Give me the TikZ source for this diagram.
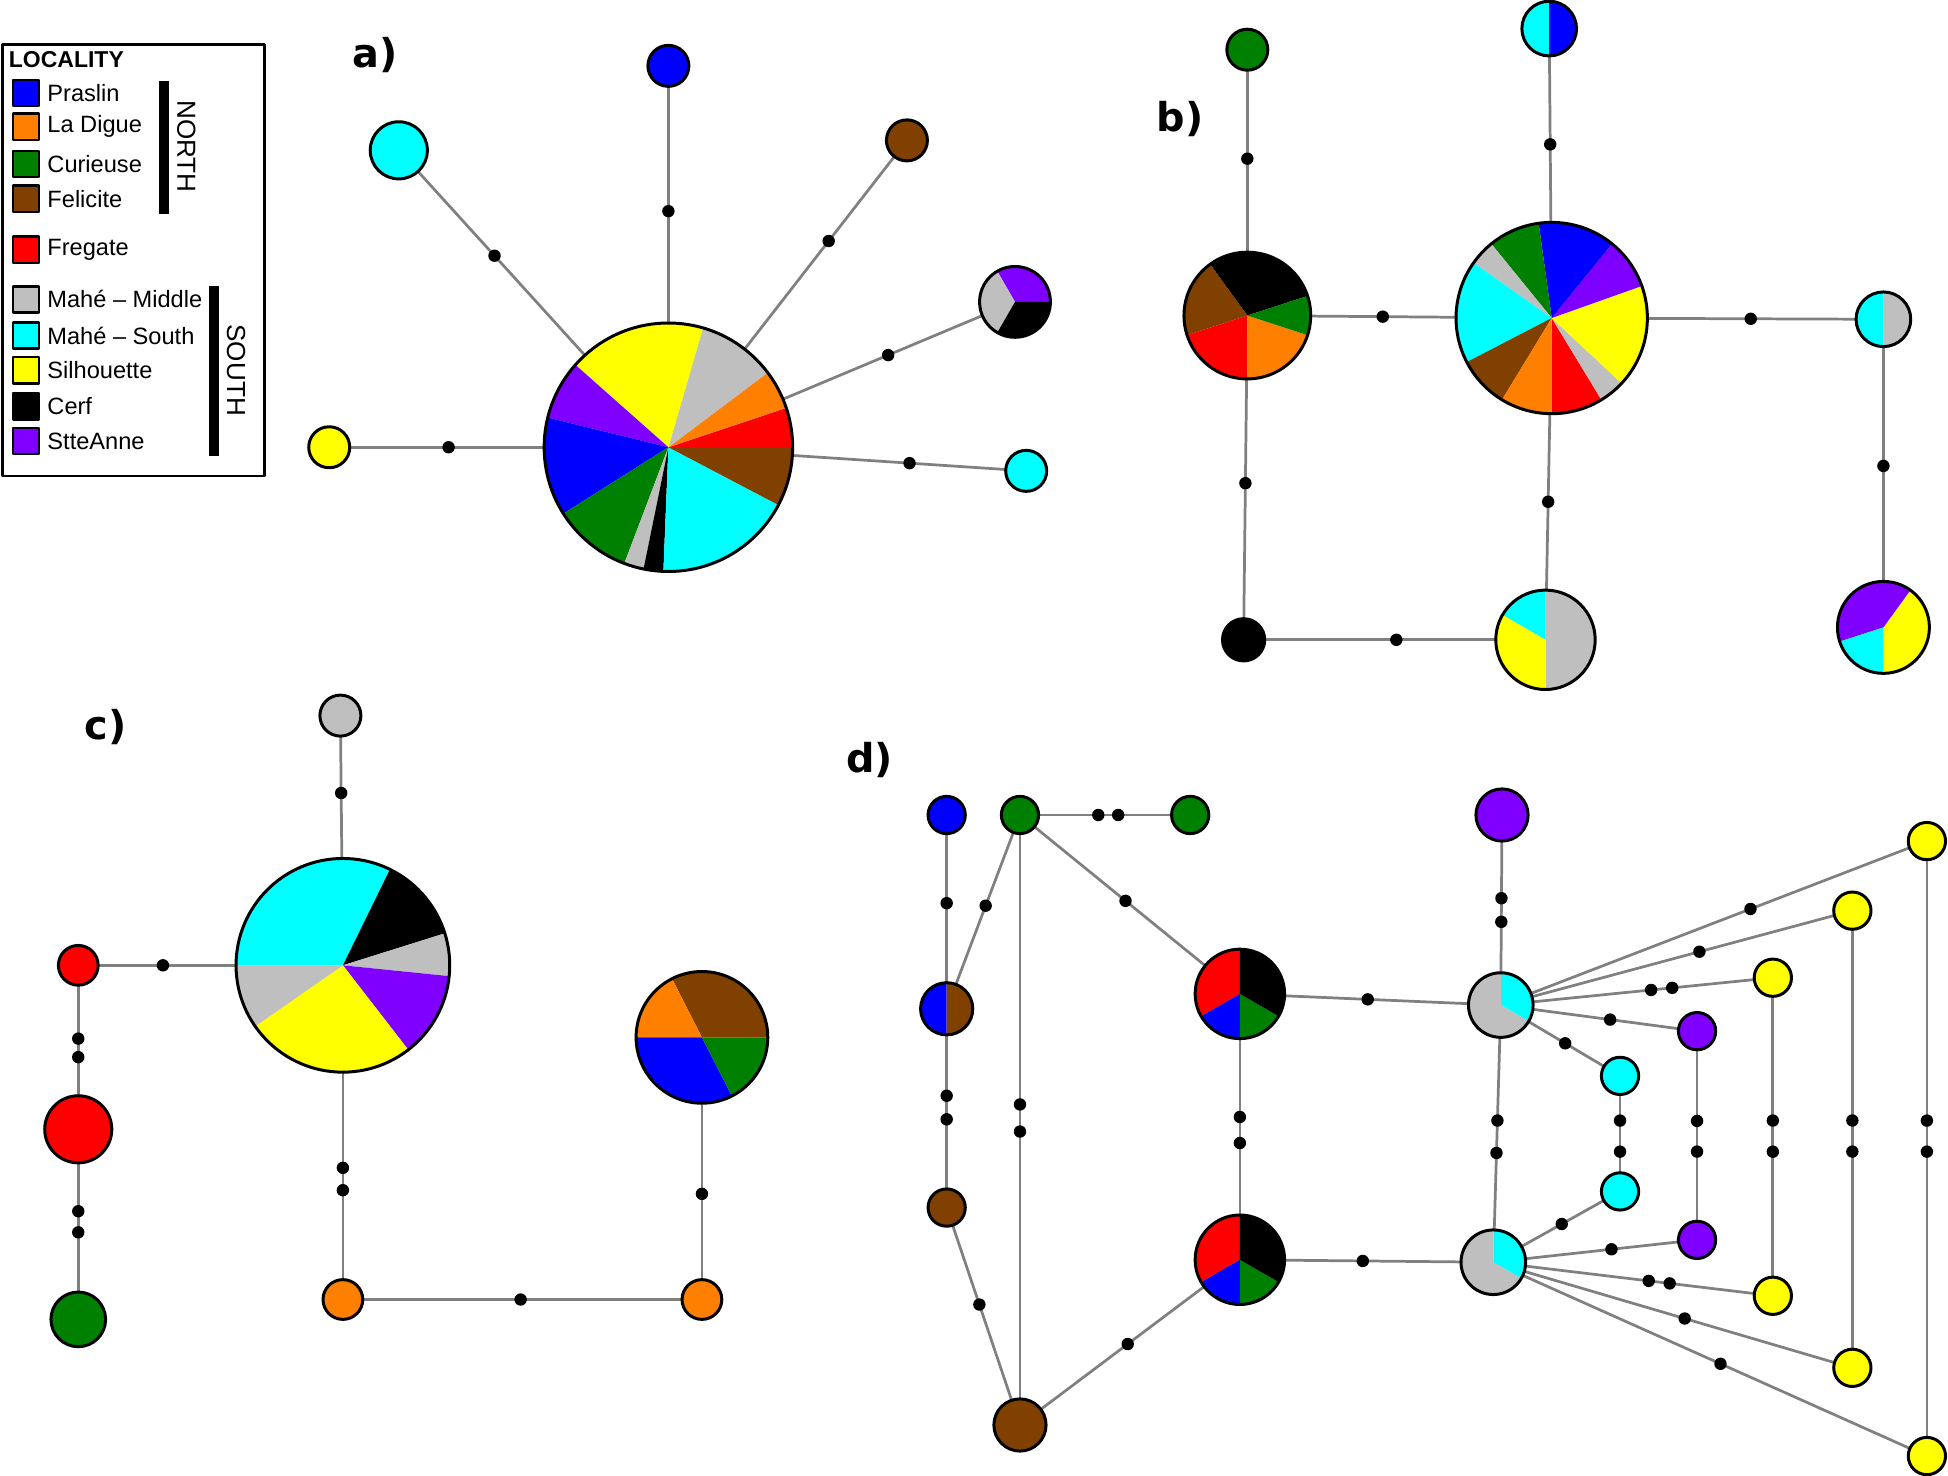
\documentclass[tikz,border=0pt]{standalone}
\usepackage{fontspec}
\setmainfont{Liberation Sans}
\newfontfamily\lblfont{DejaVu Sans}
\usetikzlibrary{calc}
\definecolor{cBlue}{RGB}{0,0,255}
\definecolor{cOrange}{RGB}{255,128,0}
\definecolor{cGreen}{RGB}{0,128,0}
\definecolor{cBrown}{RGB}{128,64,0}
\definecolor{cRed}{RGB}{255,0,0}
\definecolor{cGray}{RGB}{191,191,191}
\definecolor{cCyan}{RGB}{0,255,255}
\definecolor{cYellow}{RGB}{255,255,0}
\definecolor{cBlack}{RGB}{0,0,0}
\definecolor{cPurple}{RGB}{128,0,255}
\definecolor{edgeGray}{RGB}{128,128,128}
\pgfdeclarelayer{bg}
\pgfsetlayers{bg,main}
\newcommand{\mypie}[3]{%
  \foreach \pa/\pb/\pc in {#3}{%
    \fill[\pc] (#1.center) -- ++(\pa:#2pt) arc[start angle=\pa, end angle=\pb, radius=#2pt] -- cycle;}%
  \draw[line width=2.4pt] (#1.center) circle[radius=#2pt];}
\tikzset{
  hap/.style={circle, draw=black, line width=2.4pt, inner sep=0pt, outer sep=0pt},
  pienode/.style={circle, inner sep=0pt, outer sep=0pt},
  mdot/.style={circle, fill=black, inner sep=0pt, minimum size=10pt},
  edge/.style={draw=edgeGray, line width=2.2pt},
  legsq/.style={draw=black, line width=2pt, minimum size=21pt, inner sep=0pt},
  legtxt/.style={anchor=west, inner sep=0pt, font=\fontsize{19}{21}\selectfont},
  panel/.style={inner sep=0pt, font=\lblfont\bfseries\fontsize{32}{34}\selectfont}
}
\begin{document}
\begin{tikzpicture}[x=1pt, y=-1pt, line join=round]
\useasboundingbox (0,0) rectangle (1568,1188);

% ---------- legend ----------
\node[draw=black, line width=2pt, minimum width=211pt, minimum height=347pt, anchor=north west, inner sep=0pt] (legbox) at (1,35) {};
\node[anchor=west, inner sep=0pt, font=\bfseries\fontsize{18.5}{20}\selectfont] (legtitle) at (7,48) {LOCALITY};
\foreach \yy/\cc/\lt in {75/cBlue/Praslin, 102/cOrange/La Digue, 132/cGreen/Curieuse, 160/cBrown/Felicite, 201/cRed/Fregate, 241/cGray/Mahé – Middle, 270/cCyan/Mahé – South, 298/cYellow/Silhouette, 327/cBlack/Cerf, 355/cPurple/StteAnne}{
  \node[legsq, fill=\cc] (lsq\yy) at (21,\yy) {};
  \node[legtxt] (ltx\yy) at (38,\yy) {\lt};
}
\fill (128,65) rectangle (136,172);
\fill (168,230) rectangle (176,367);
\node[rotate=-90, inner sep=0pt, font=\fontsize{21}{23}\selectfont] (north) at (150,118) {NORTH};
\node[rotate=-90, inner sep=0pt, font=\fontsize{21}{23}\selectfont] (south) at (190,298) {SOUTH};

% ---------- panel labels ----------
\node[panel] (la) at (302,44) {a)};
\node[panel] (lb) at (950,96) {b)};
\node[panel] (lc) at (85,585) {c)};
\node[panel] (ld) at (700,612) {d)};

% ---------- panel a ----------
\node[pienode, minimum size=200pt] (aC) at (538,360) {};
\node[hap, fill=cBlue, minimum size=33pt] (aBlue) at (538,53) {};
\node[hap, fill=cCyan, minimum size=46pt] (aCyA) at (321,121) {};
\node[hap, fill=cBrown, minimum size=33pt] (aBrown) at (730,113) {};
\node[pienode, minimum size=57pt] (aP) at (817,243) {};
\node[hap, fill=cYellow, minimum size=33pt] (aYel) at (265,360) {};
\node[hap, fill=cCyan, minimum size=33pt] (aCyB) at (826,379) {};
\mypie{aC}{100}{0/18.46/cRed, 18.46/36.92/cOrange, 36.92/73.85/cGray, 73.85/138.46/cYellow, 138.46/166.15/cPurple, 166.15/212.31/cBlue, 212.31/249.23/cGreen, 249.23/258.46/cGray, 258.46/267.69/cBlack, 267.69/332.31/cCyan, 332.31/360/cBrown}
\mypie{aP}{28.5}{0/120/cPurple, 120/240/cGray, 240/360/cBlack}
\node[mdot] (ad1) at ($(aC)!0.619!(aBlue)$) {};
\node[mdot] (ad2) at ($(aC)!0.645!(aCyA)$) {};
\node[mdot] (ad3) at ($(aC)!0.672!(aBrown)$) {};
\node[mdot] (ad4) at ($(aC)!0.634!(aP)$) {};
\node[mdot] (ad5) at ($(aC)!0.648!(aYel)$) {};
\node[mdot] (ad6) at ($(aC)!0.674!(aCyB)$) {};

% ---------- panel b ----------
\node[hap, fill=cGreen, minimum size=33pt] (bGreen) at (1004,40) {};
\node[pienode, minimum size=102pt] (bL) at (1004,254) {};
\node[pienode, minimum size=44pt] (bTop) at (1247,23) {};
\node[pienode, minimum size=154pt] (bB) at (1249,256) {};
\node[pienode, minimum size=44pt] (bR) at (1516,257) {};
\node[pienode, minimum size=74pt] (bBR) at (1516,505) {};
\node[hap, fill=cBlack, minimum size=34pt] (bBlack) at (1001,515) {};
\node[pienode, minimum size=80pt] (bBM) at (1244,515) {};
\mypie{bL}{51}{18/126/cBlack, 126/198/cBrown, 198/270/cRed, 270/342/cOrange, 342/378/cGreen}
\mypie{bB}{77}{270/301.30/cRed, 301.30/316.96/cGray, 316.96/379.57/cYellow, 379.57/410.87/cPurple, 410.87/457.83/cBlue, 457.83/489.13/cGreen, 489.13/504.78/cGray, 504.78/567.39/cCyan, 567.39/598.70/cBrown, 598.70/630/cOrange}
\mypie{bTop}{22}{90/270/cCyan, -90/90/cBlue}
\mypie{bR}{22}{90/270/cCyan, -90/90/cGray}
\mypie{bBM}{40}{-90/90/cGray, 90/150/cCyan, 150/270/cYellow}
\mypie{bBR}{37}{-90/54/cYellow, 54/198/cPurple, 198/270/cCyan}
\node[mdot] (bd1) at ($(bGreen)!0.41!(bL)$) {};
\node[mdot] (bd2) at ($(bL)!0.445!(bB)$) {};
\node[mdot] (bd3) at ($(bTop)!0.40!(bB)$) {};
\node[mdot] (bd4) at ($(bB)!0.60!(bR)$) {};
\node[mdot] (bd5) at ($(bR)!0.476!(bBR)$) {};
\node[mdot] (bd6) at ($(bL)!0.517!(bBlack)$) {};
\node[mdot] (bd7) at ($(bBlack)!0.506!(bBM)$) {};
\node[mdot] (bd8) at ($(bB)!0.571!(bBM)$) {};

% ---------- panel c ----------
\node[hap, fill=cGray, minimum size=33pt] (cGr) at (274,576) {};
\node[pienode, minimum size=172pt] (cBig) at (276,777) {};
\node[hap, fill=cRed, minimum size=32pt] (cRed1) at (63,777) {};
\node[hap, fill=cRed, minimum size=54pt] (cRed2) at (63,909) {};
\node[hap, fill=cGreen, minimum size=44pt] (cGrn) at (63,1062) {};
\node[hap, fill=cOrange, minimum size=32pt] (cOr1) at (276,1046) {};
\node[hap, fill=cOrange, minimum size=32pt] (cOr2) at (565,1046) {};
\node[pienode, minimum size=106pt] (cSm) at (565,835) {};
\mypie{cBig}{86}{63.87/180/cCyan, 17.42/63.87/cBlack, -5.81/17.42/cGray, -52.26/-5.81/cPurple, -145.16/-52.26/cYellow, -180/-145.16/cGray}
\mypie{cSm}{53}{0/117/cBrown, 117/180/cOrange, 180/297/cBlue, 297/360/cGreen}
\node[mdot] (cd1) at ($(cGr)!0.31!(cBig)$) {};
\node[mdot] (cd2) at ($(cRed1)!0.32!(cBig)$) {};
\node[mdot] (cd3) at ($(cRed1)!0.447!(cRed2)$) {};
\node[mdot] (cd4) at ($(cRed1)!0.56!(cRed2)$) {};
\node[mdot] (cd5) at ($(cRed2)!0.431!(cGrn)$) {};
\node[mdot] (cd6) at ($(cRed2)!0.542!(cGrn)$) {};
\node[mdot] (cd7) at ($(cBig)!0.606!(cOr1)$) {};
\node[mdot] (cd8) at ($(cBig)!0.673!(cOr1)$) {};
\node[mdot] (cd9) at ($(cOr1)!0.495!(cOr2)$) {};
\node[mdot] (cd10) at ($(cOr2)!0.403!(cSm)$) {};

% ---------- panel d ----------
\node[hap, fill=cBlue, minimum size=30pt] (dBl) at (762,656) {};
\node[hap, fill=cGreen, minimum size=30pt] (dG1) at (821,656) {};
\node[hap, fill=cGreen, minimum size=30pt] (dG2) at (958,656) {};
\node[pienode, minimum size=42pt] (dBB) at (762,812) {};
\node[hap, fill=cBrown, minimum size=30pt] (dBr1) at (762,972) {};
\node[hap, fill=cBrown, minimum size=42pt] (dBr2) at (821,1147) {};
\node[pienode, minimum size=72pt] (dD1) at (998,800) {};
\node[pienode, minimum size=72pt] (dD2) at (998,1014) {};
\node[pienode, minimum size=52pt] (dQ1) at (1208,809) {};
\node[pienode, minimum size=52pt] (dQ2) at (1202,1016) {};
\node[hap, fill=cPurple, minimum size=42pt] (dPt) at (1209,656) {};
\node[hap, fill=cYellow, minimum size=30pt] (dY1) at (1551,677) {};
\node[hap, fill=cYellow, minimum size=30pt] (dY2) at (1491,733) {};
\node[hap, fill=cYellow, minimum size=30pt] (dY3) at (1427,787) {};
\node[hap, fill=cPurple, minimum size=30pt] (dP1) at (1366,830) {};
\node[hap, fill=cCyan, minimum size=30pt] (dC1) at (1304,866) {};
\node[hap, fill=cCyan, minimum size=30pt] (dC2) at (1304,959) {};
\node[hap, fill=cPurple, minimum size=30pt] (dP2) at (1366,998) {};
\node[hap, fill=cYellow, minimum size=30pt] (dY4) at (1427,1043) {};
\node[hap, fill=cYellow, minimum size=30pt] (dY5) at (1491,1101) {};
\node[hap, fill=cYellow, minimum size=30pt] (dY6) at (1551,1172) {};
\mypie{dBB}{21}{90/270/cBlue, -90/90/cBrown}
\mypie{dD1}{36}{90/210/cRed, 210/270/cBlue, 270/330/cGreen, 330/450/cBlack}
\mypie{dD2}{36}{90/210/cRed, 210/270/cBlue, 270/330/cGreen, 330/450/cBlack}
\mypie{dQ1}{26}{-30/90/cCyan, 90/330/cGray}
\mypie{dQ2}{26}{-30/90/cCyan, 90/330/cGray}
\node[mdot] (dd1) at ($(dBl)!0.455!(dBB)$) {};
\node[mdot] (dd2) at ($(dG1)!0.468!(dBB)$) {};
\node[mdot] (dd3) at ($(dG1)!0.46!(dG2)$) {};
\node[mdot] (dd4) at ($(dG1)!0.577!(dG2)$) {};
\node[mdot] (dd5) at ($(dG1)!0.48!(dD1)$) {};
\node[mdot] (dd6) at ($(dBB)!0.4375!(dBr1)$) {};
\node[mdot] (dd7) at ($(dBB)!0.556!(dBr1)$) {};
\node[mdot] (dd8) at ($(dG1)!0.4745!(dBr2)$) {};
\node[mdot] (dd9) at ($(dG1)!0.519!(dBr2)$) {};
\node[mdot] (dd10) at ($(dBr1)!0.446!(dBr2)$) {};
\node[mdot] (dd11) at ($(dBr2)!0.49!(dD2)$) {};
\node[mdot] (dd12) at ($(dD1)!0.463!(dD2)$) {};
\node[mdot] (dd13) at ($(dD1)!0.561!(dD2)$) {};
\node[mdot] (dd14) at ($(dD1)!0.49!(dQ1)$) {};
\node[mdot] (dd15) at ($(dPt)!0.438!(dQ1)$) {};
\node[mdot] (dd16) at ($(dPt)!0.562!(dQ1)$) {};
\node[mdot] (dd17) at ($(dQ1)!0.449!(dQ2)$) {};
\node[mdot] (dd18) at ($(dQ1)!0.575!(dQ2)$) {};
\node[mdot] (dd19) at ($(dD2)!0.485!(dQ2)$) {};
\node[mdot] (dd20) at ($(dQ1)!0.586!(dY1)$) {};
\node[mdot] (dd21) at ($(dQ1)!0.565!(dY2)$) {};
\node[mdot] (dd22) at ($(dQ1)!0.5525!(dY3)$) {};
\node[mdot] (dd23) at ($(dQ1)!0.63!(dY3)$) {};
\node[mdot] (dd24) at ($(dQ1)!0.557!(dP1)$) {};
\node[mdot] (dd25) at ($(dQ1)!0.54!(dC1)$) {};
\node[mdot] (dd26) at ($(dQ2)!0.54!(dC2)$) {};
\node[mdot] (dd27) at ($(dQ2)!0.58!(dP2)$) {};
\node[mdot] (dd28) at ($(dQ2)!0.556!(dY4)$) {};
\node[mdot] (dd29) at ($(dQ2)!0.631!(dY4)$) {};
\node[mdot] (dd30) at ($(dQ2)!0.533!(dY5)$) {};
\node[mdot] (dd31) at ($(dQ2)!0.524!(dY6)$) {};
\node[mdot] (dd32) at ($(dC1)!0.387!(dC2)$) {};
\node[mdot] (dd33) at ($(dC1)!0.656!(dC2)$) {};
\node[mdot] (dd34) at ($(dP1)!0.43!(dP2)$) {};
\node[mdot] (dd35) at ($(dP1)!0.577!(dP2)$) {};
\node[mdot] (dd36) at ($(dY3)!0.449!(dY4)$) {};
\node[mdot] (dd37) at ($(dY3)!0.547!(dY4)$) {};
\node[mdot] (dd38) at ($(dY2)!0.459!(dY5)$) {};
\node[mdot] (dd39) at ($(dY2)!0.527!(dY5)$) {};
\node[mdot] (dd40) at ($(dY1)!0.4545!(dY6)$) {};
\node[mdot] (dd41) at ($(dY1)!0.505!(dY6)$) {};

% ---------- connectors ----------
\begin{pgfonlayer}{bg}
\draw[edge] (aC) -- (aBlue);
\draw[edge] (aC) -- (aCyA);
\draw[edge] (aC) -- (aBrown);
\draw[edge] (aC) -- (aP);
\draw[edge] (aC) -- (aYel);
\draw[edge] (aC) -- (aCyB);
\draw[edge] (bGreen) -- (bL);
\draw[edge] (bL) -- (bB);
\draw[edge] (bTop) -- (bB);
\draw[edge] (bB) -- (bR);
\draw[edge] (bR) -- (bBR);
\draw[edge] (bL) -- (bBlack);
\draw[edge] (bBlack) -- (bBM);
\draw[edge] (bB) -- (bBM);
\draw[edge] (cGr) -- (cBig);
\draw[edge] (cRed1) -- (cBig);
\draw[edge] (cRed1) -- (cRed2);
\draw[edge] (cRed2) -- (cGrn);
\draw[edge] (cBig) -- (cOr1);
\draw[edge] (cOr1) -- (cOr2);
\draw[edge] (cOr2) -- (cSm);
\draw[edge] (dBl) -- (dBB);
\draw[edge] (dG1) -- (dBB);
\draw[edge] (dG1) -- (dG2);
\draw[edge] (dG1) -- (dD1);
\draw[edge] (dBB) -- (dBr1);
\draw[edge] (dG1) -- (dBr2);
\draw[edge] (dBr1) -- (dBr2);
\draw[edge] (dBr2) -- (dD2);
\draw[edge] (dD1) -- (dD2);
\draw[edge] (dD1) -- (dQ1);
\draw[edge] (dPt) -- (dQ1);
\draw[edge] (dQ1) -- (dQ2);
\draw[edge] (dD2) -- (dQ2);
\foreach \tg in {dY1,dY2,dY3,dP1,dC1}{\draw[edge] (dQ1) -- (\tg);}
\foreach \tg in {dC2,dP2,dY4,dY5,dY6}{\draw[edge] (dQ2) -- (\tg);}
\draw[edge] (dC1) -- (dC2);
\draw[edge] (dP1) -- (dP2);
\draw[edge] (dY3) -- (dY4);
\draw[edge] (dY2) -- (dY5);
\draw[edge] (dY1) -- (dY6);
\end{pgfonlayer}
\end{tikzpicture}
\end{document}
